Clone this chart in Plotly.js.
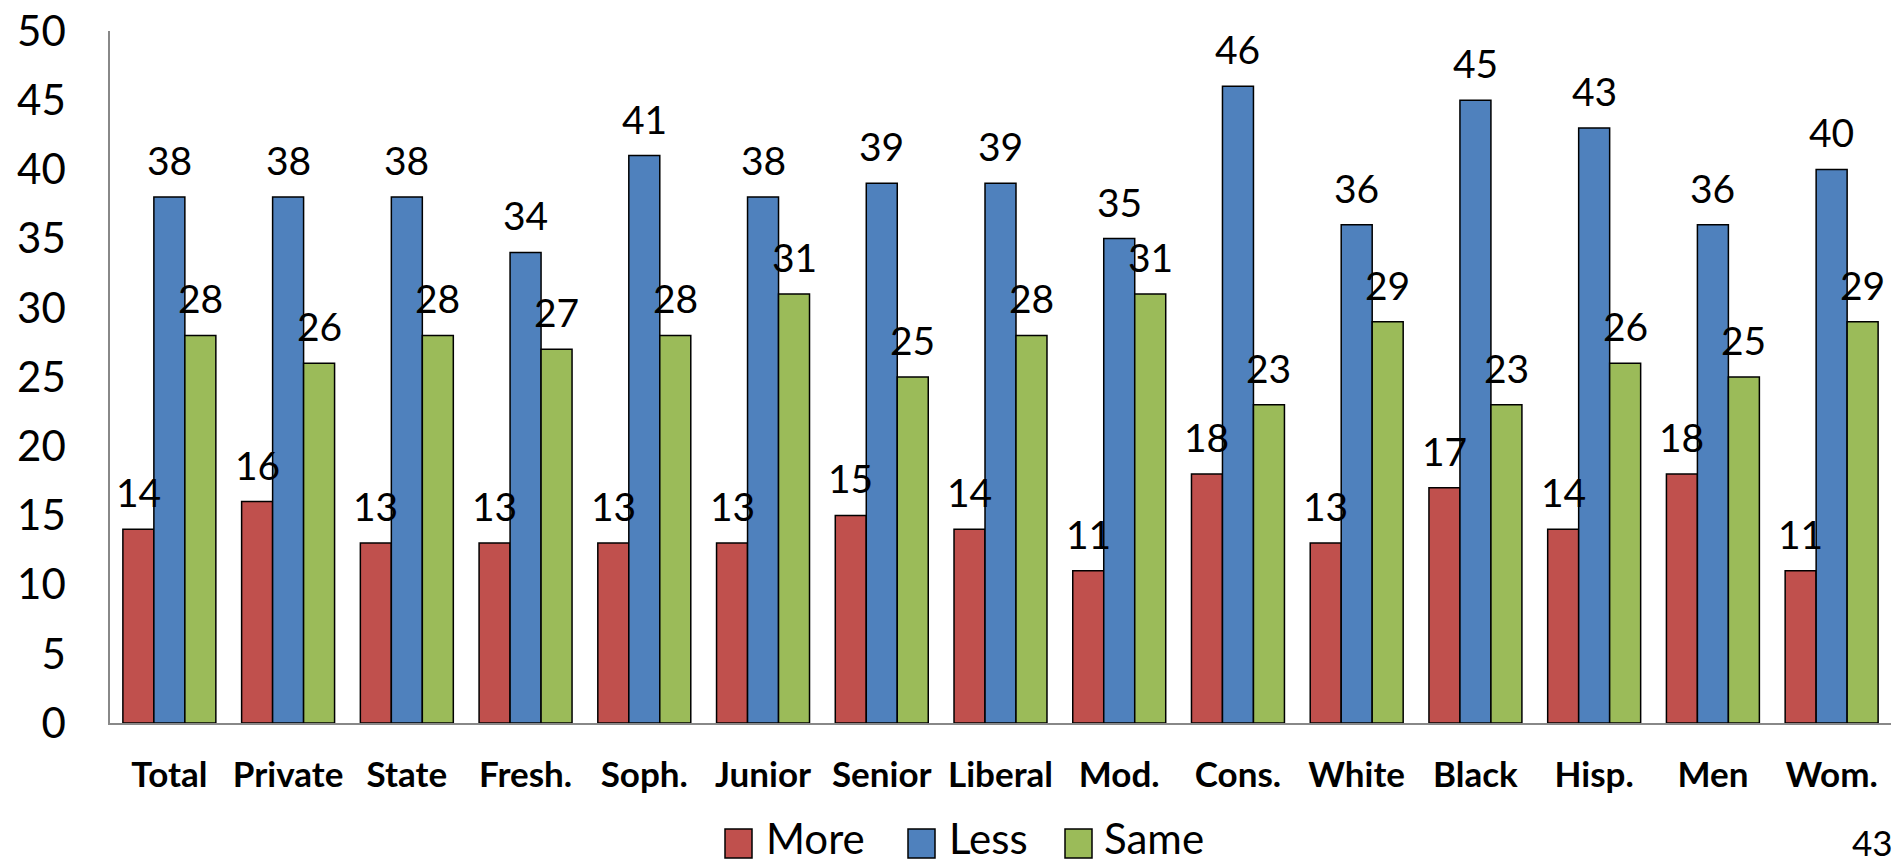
<!DOCTYPE html>
<html>
<head>
<meta charset="utf-8">
<script src="https://cdn.plot.ly/plotly-3.0.1.min.js"></script>
<style>
html,body{margin:0;padding:0;background:#fff;}
#chart{width:1895px;height:865px;}
</style>
</head>
<body>
<div id="chart"></div>
<script>
const categories = ["Total","Private","State","Fresh.","Soph.","Junior","Senior","Liberal","Mod.","Cons.","White","Black","Hisp.","Men","Wom."];
const seriesNames = ["More","Less","Same"];
const moreValues = [14,16,13,13,13,13,15,14,11,18,13,17,14,18,11];
const lessValues = [38,38,38,34,41,38,39,39,35,46,36,45,43,36,40];
const sameValues = [28,26,28,27,28,31,25,28,31,23,29,23,26,25,29];
const yTicks = [0,5,10,15,20,25,30,35,40,45,50];
const pageNumber = "43";

const FONT = "Lato, Carlito, Calibri, sans-serif";
const COLORS = ["#C0504D", "#4F81BD", "#9BBB59"];
const SERIES = [moreValues, lessValues, sameValues];

// layout geometry (pixels)
const W = 1895, H = 865;
const M = {l: 110, r: 4, t: 31, b: 142};
const plotW = W - M.l - M.r, plotH = H - M.t - M.b;
const BARGAP = 0.217;
const px2x = p => (p - M.l) / plotW;
const py2y = p => (H - M.b - p) / plotH;

const data = SERIES.map((vals, k) => ({
  type: "bar",
  name: seriesNames[k],
  x: categories,
  y: vals,
  marker: {color: COLORS[k], line: {color: "#000", width: 1.5}},
  hoverinfo: "x+y+name",
  showlegend: false
}));

// value labels above each bar, placed in data coordinates
const annotations = [];
const barW = (1 - BARGAP) / SERIES.length;
SERIES.forEach((vals, k) => {
  vals.forEach((v, i) => {
    annotations.push({
      xref: "x", yref: "y",
      x: i + (k - (SERIES.length - 1) / 2) * barW,
      y: v,
      text: String(v),
      showarrow: false,
      xanchor: "center", yanchor: "bottom",
      yshift: 12,
      font: {family: FONT, size: 39, color: "#000"}
    });
  });
});

// legend (custom, with the original's large swatches)
const legendItems = [
  {sw: 725, tx: 767},
  {sw: 908, tx: 950},
  {sw: 1065, tx: 1105}
];
const shapes = [];
legendItems.forEach((it, k) => {
  shapes.push({
    type: "rect", xref: "paper", yref: "paper",
    x0: px2x(it.sw), x1: px2x(it.sw + 27),
    y0: py2y(858), y1: py2y(829),
    fillcolor: COLORS[k],
    line: {color: "#000", width: 1.5}
  });
  annotations.push({
    xref: "paper", yref: "paper",
    x: px2x(it.tx - 3), xanchor: "left",
    y: py2y(865), yanchor: "bottom",
    text: seriesNames[k],
    showarrow: false,
    font: {family: FONT, size: 42, color: "#000"}
  });
});

annotations.push({
  text: pageNumber,
  xref: "paper", yref: "paper",
  x: px2x(1895), xanchor: "right",
  y: py2y(865), yanchor: "bottom",
  showarrow: false,
  font: {family: FONT, size: 35, color: "#000"}
});

const layout = {
  width: W,
  height: H,
  margin: {l: M.l, r: M.r, t: M.t, b: M.b, pad: 0},
  paper_bgcolor: "#fff",
  plot_bgcolor: "#fff",
  barmode: "group",
  bargap: BARGAP,
  bargroupgap: 0,
  font: {family: FONT, color: "#000"},
  showlegend: false,
  xaxis: {
    type: "category",
    showgrid: false,
    zeroline: false,
    showline: true,
    linecolor: "#888",
    linewidth: 1.5,
    ticks: "",
    ticklabelstandoff: 20,
    tickfont: {family: FONT, size: 35, color: "#000", weight: "bold"},
    fixedrange: true
  },
  yaxis: {
    range: [0, 50],
    tickvals: yTicks,
    ticktext: yTicks.map(String),
    showgrid: false,
    zeroline: false,
    showline: true,
    linecolor: "#888",
    linewidth: 1.5,
    ticks: "",
    ticklabelstandoff: 34,
    tickfont: {family: FONT, size: 42, color: "#000"},
    fixedrange: true
  },
  shapes: shapes,
  annotations: annotations
};

Plotly.newPlot("chart", data, layout, {displayModeBar: false});
</script>
</body>
</html>
